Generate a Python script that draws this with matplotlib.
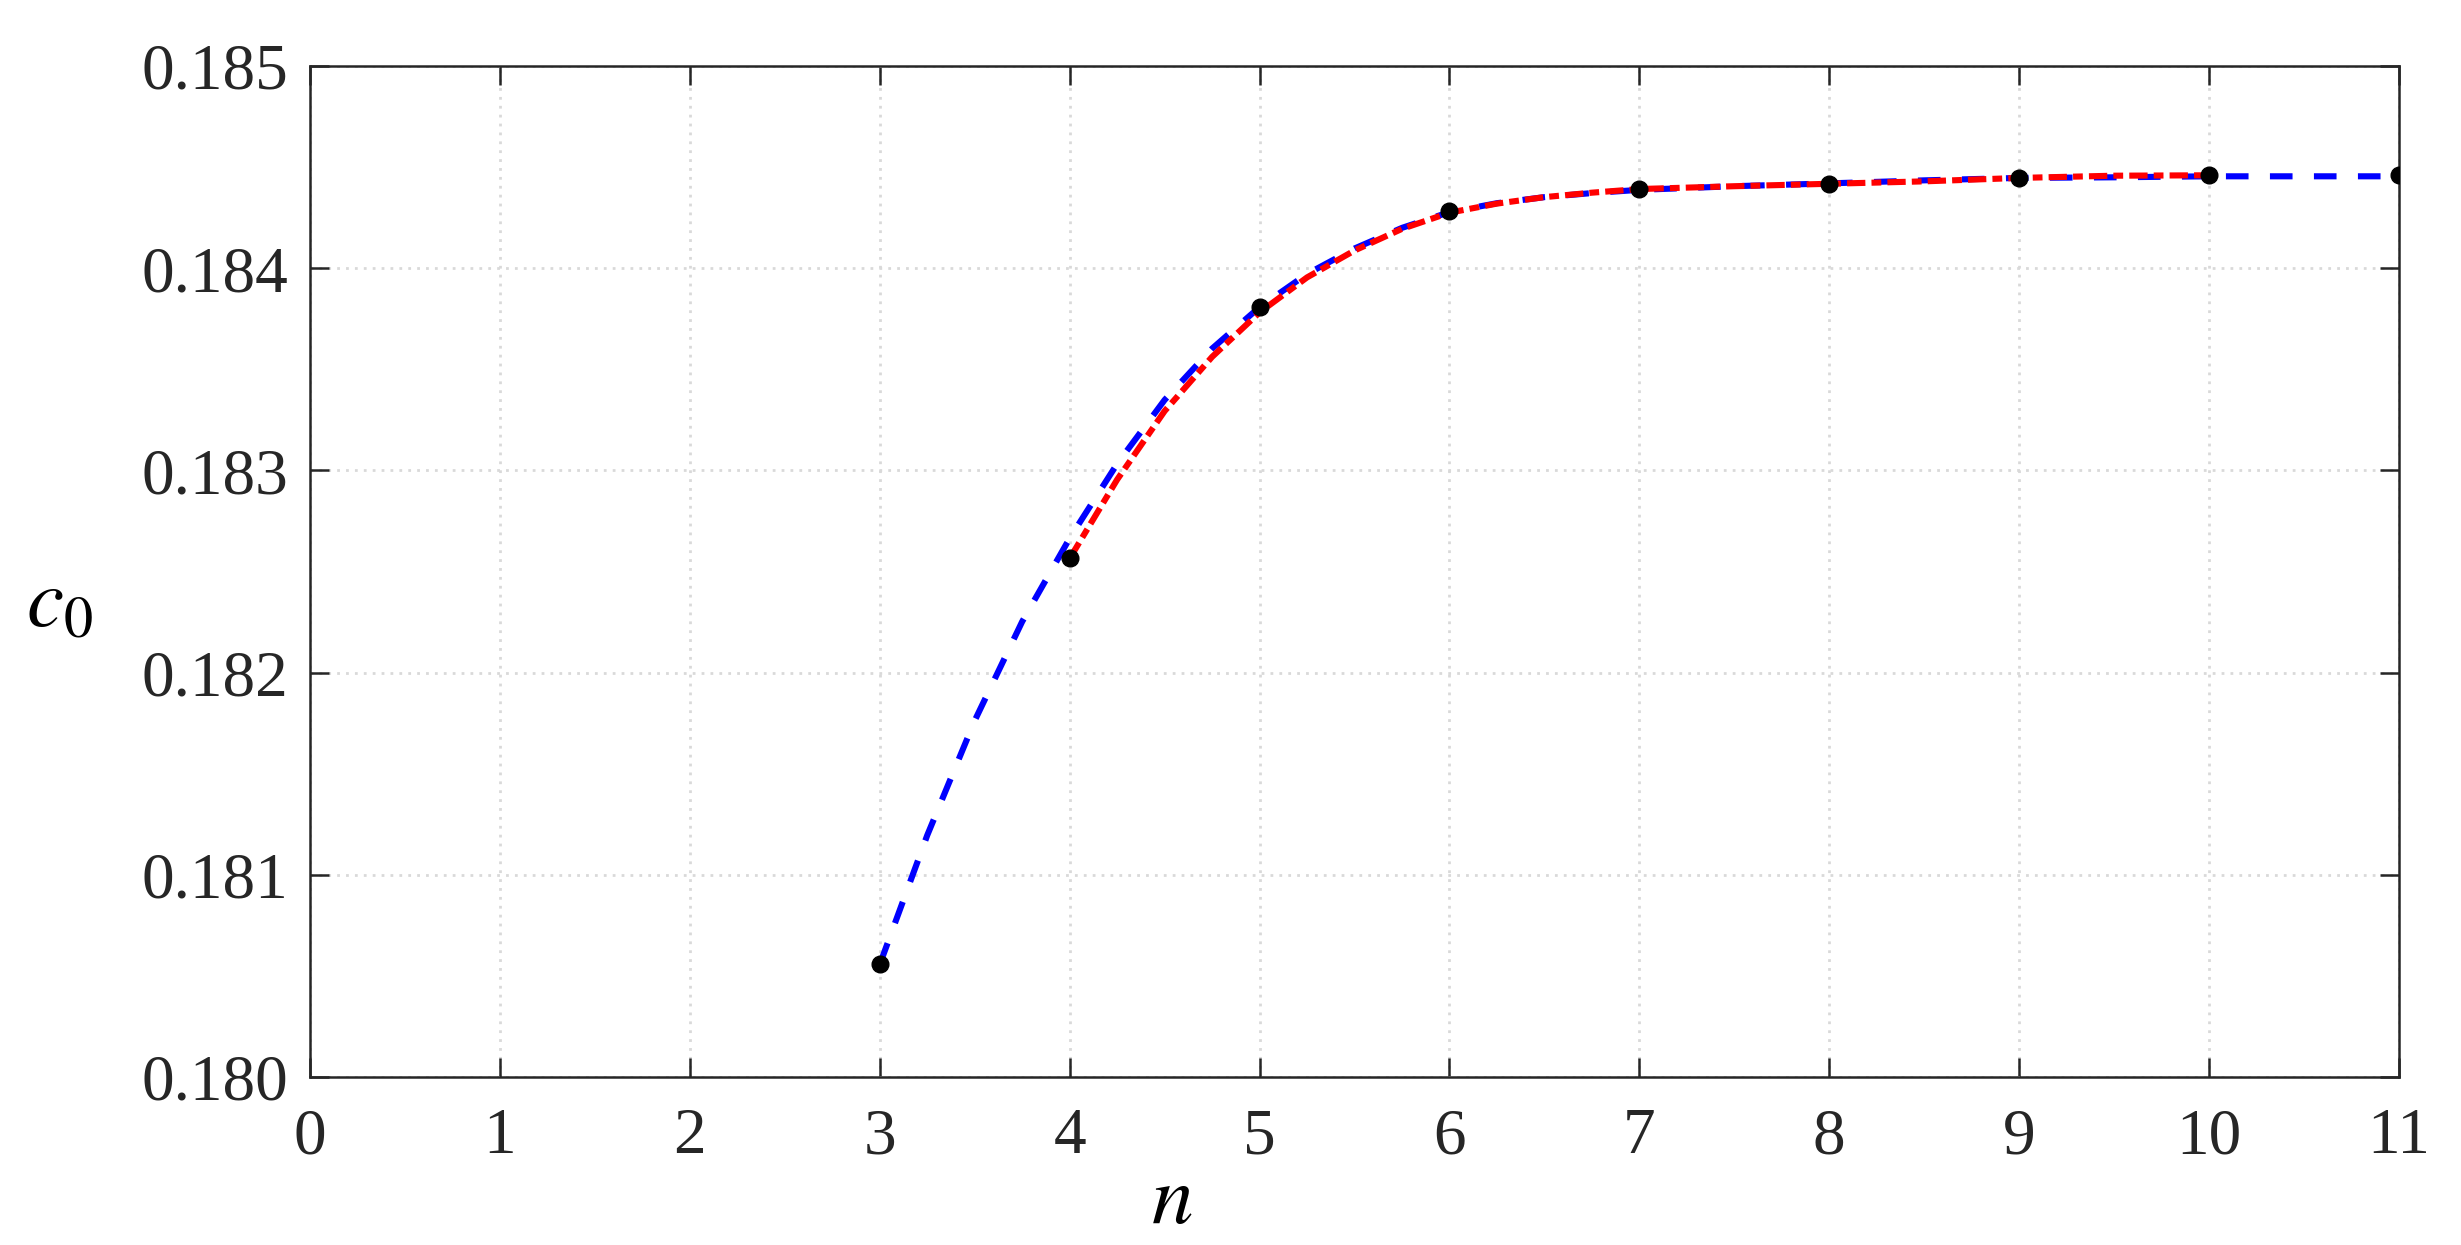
import matplotlib
matplotlib.use("Agg")
import matplotlib.pyplot as plt
from matplotlib.ticker import FormatStrFormatter

plt.rcParams['font.family'] = ['Liberation Serif', 'DejaVu Serif']
plt.rcParams['mathtext.fontset'] = 'stix'

# computed points
n_pts = [3, 4, 5, 6, 7, 8, 9, 10, 11]
c0_pts = [0.180557, 0.182565, 0.183810, 0.184283, 0.184391, 0.184419, 0.184448, 0.184461, 0.184461]

# blue dashed curve
n_blue = [3, 3.25, 3.5, 3.75, 4, 4.25, 4.5, 4.75, 5, 5.25, 5.5, 5.75, 6, 6.25, 6.5, 6.75, 7,
          7.5, 8, 8.5, 9, 9.5, 10, 10.5, 11]
c0_blue = [0.180557, 0.181196, 0.181763, 0.182253, 0.182665, 0.183033, 0.183349, 0.183603,
           0.183808, 0.183972, 0.184098, 0.184200, 0.184278, 0.184322, 0.184352, 0.184372,
           0.184388, 0.184406, 0.184420, 0.184435, 0.184447, 0.184450, 0.184455, 0.184455,
           0.184455]

# red dash-dot curve
n_red = [4, 4.25, 4.5, 4.75, 5, 5.25, 5.5, 5.75, 6, 6.25, 6.5, 6.75, 7, 7.5, 8, 8.5, 9, 9.5, 10]
c0_red = [0.182565, 0.182955, 0.183294, 0.183562, 0.183782, 0.183955, 0.184088, 0.184195,
          0.184275, 0.184320, 0.184352, 0.184374, 0.184392, 0.184406, 0.184418, 0.184430,
          0.184447, 0.184458, 0.184460]

xticks = list(range(0, 12))
yticks = [0.180, 0.181, 0.182, 0.183, 0.184, 0.185]

fig = plt.figure(figsize=(24.61, 12.45), dpi=100)
ax = fig.add_axes([0.126, 0.1349, 0.8488, 0.8120])

axc = '#262626'
ax.plot(n_blue, c0_blue, color='#0000ff', lw=4.4, linestyle=(0, (3.7, 3.5)), zorder=3)
ax.plot(n_red, c0_red, color='#ff0000', lw=4.4, linestyle=(0, (3.0, 1.0, 1.6, 1.0)), zorder=4)
ax.plot(n_pts, c0_pts, 'o', color='black', markersize=12, zorder=5)

ax.set_xlim(0, 11)
ax.set_ylim(0.180, 0.185)
ax.set_xticks(xticks)
ax.set_yticks(yticks)
ax.yaxis.set_major_formatter(FormatStrFormatter('%.3f'))

ax.grid(True, color='#d9d9d9', linestyle=(0, (1, 2.2)), linewidth=2.0)
ax.tick_params(direction='in', length=14, width=1.8, colors=axc, labelsize=47,
               top=True, right=True, pad=16)
ax.tick_params(axis='x', pad=22)
for s in ax.spines.values():
    s.set_linewidth(1.8)
    s.set_color(axc)

ax.set_xlabel('$n$', fontsize=60, color='black')
ax.xaxis.set_label_coords(0.4126, -0.125)
ax.xaxis.label.set_va('center')
ax.set_ylabel('$c_0$', fontsize=60, rotation=0, color='black')
ax.yaxis.set_label_coords(-0.120, 0.465)
ax.yaxis.label.set_va('center')

fig.savefig('out.png', dpi=100)
